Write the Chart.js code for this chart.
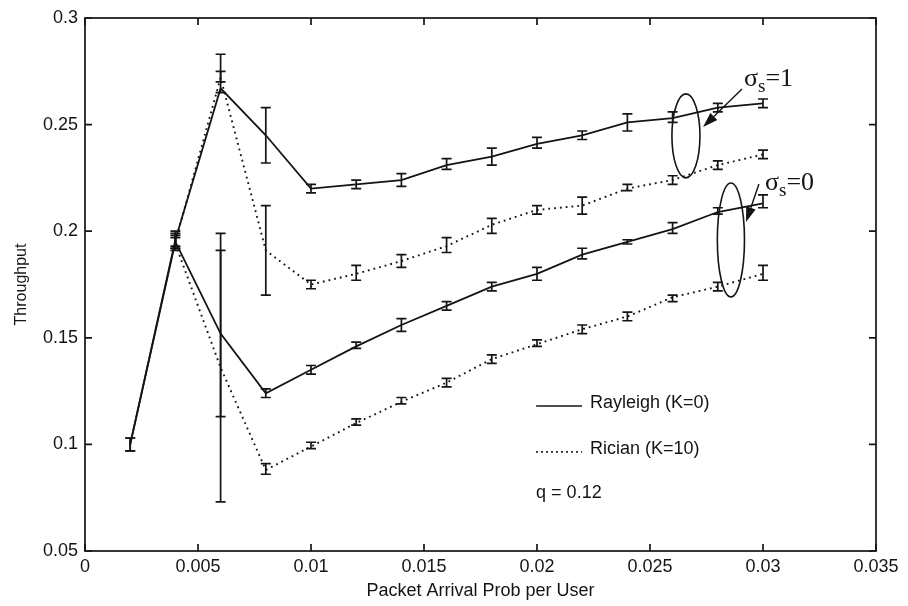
<!DOCTYPE html>
<html>
<head>
<meta charset="utf-8">
<script src="https://cdn.jsdelivr.net/npm/chart.js@4.4.0/dist/chart.umd.min.js"></script>
<style>
  html, body { margin: 0; padding: 0; background: #fff; }
  #wrap { width: 908px; height: 606px; }
</style>
</head>
<body>
<div id="wrap"><canvas id="chart1" width="908" height="606"></canvas></div>
<script>
//------------------------------ data ------------------------------------------
// packet arrival prob per user
var x_rayleigh = [0.002, 0.004, 0.006, 0.008, 0.010, 0.012, 0.014, 0.016, 0.018, 0.020, 0.022, 0.024, 0.026, 0.028, 0.030];
var x_rician = [0.004, 0.006, 0.008, 0.010, 0.012, 0.014, 0.016, 0.018, 0.020, 0.022, 0.024, 0.026, 0.028, 0.030];

// Rayleigh (K=0), sigma_s = 1
var ray1 = [0.100, 0.196, 0.267, 0.245, 0.220, 0.222, 0.224, 0.231, 0.235, 0.241, 0.245, 0.251, 0.253, 0.258, 0.260];
var ray1_lo = [0.097, 0.193, 0.265, 0.232, 0.218, 0.220, 0.221, 0.229, 0.231, 0.239, 0.243, 0.247, 0.251, 0.256, 0.258];
var ray1_hi = [0.103, 0.199, 0.283, 0.258, 0.222, 0.224, 0.227, 0.234, 0.239, 0.244, 0.247, 0.255, 0.256, 0.260, 0.262];

// Rician (K=10), sigma_s = 1
var ric1 = [0.195, 0.272, 0.191, 0.175, 0.180, 0.186, 0.193, 0.203, 0.210, 0.212, 0.220, 0.224, 0.231, 0.236];
var ric1_lo = [0.192, 0.270, 0.170, 0.173, 0.177, 0.183, 0.190, 0.199, 0.208, 0.208, 0.219, 0.222, 0.229, 0.234];
var ric1_hi = [0.198, 0.275, 0.212, 0.177, 0.184, 0.189, 0.197, 0.206, 0.212, 0.216, 0.222, 0.226, 0.233, 0.238];

// Rayleigh (K=0), sigma_s = 0
var ray0 = [0.100, 0.195, 0.152, 0.124, 0.135, 0.146, 0.156, 0.165, 0.174, 0.180, 0.189, 0.195, 0.201, 0.209, 0.213];
var ray0_lo = [0.097, 0.192, 0.113, 0.122, 0.133, 0.145, 0.153, 0.163, 0.172, 0.177, 0.187, 0.194, 0.199, 0.208, 0.211];
var ray0_hi = [0.103, 0.200, 0.191, 0.126, 0.137, 0.148, 0.159, 0.167, 0.176, 0.183, 0.192, 0.196, 0.204, 0.211, 0.217];

// Rician (K=10), sigma_s = 0
var ric0 = [0.194, 0.136, 0.088, 0.099, 0.110, 0.120, 0.129, 0.140, 0.147, 0.154, 0.160, 0.169, 0.174, 0.180];
var ric0_lo = [0.191, 0.073, 0.086, 0.098, 0.109, 0.119, 0.127, 0.138, 0.146, 0.152, 0.158, 0.167, 0.172, 0.177];
var ric0_hi = [0.197, 0.199, 0.091, 0.101, 0.112, 0.122, 0.131, 0.142, 0.149, 0.156, 0.162, 0.170, 0.176, 0.184];

var x_ticks = [0, 0.005, 0.01, 0.015, 0.02, 0.025, 0.03, 0.035];
var y_ticks = [0.05, 0.1, 0.15, 0.2, 0.25, 0.3];

//------------------------------ helpers ---------------------------------------
var INK = '#141414';
var SANS = '"Liberation Sans", Arial, sans-serif';
var SERIF = '"Liberation Serif", "Times New Roman", serif';

function pts(xs, ys) {
  return xs.map(function (x, i) { return { x: x, y: ys[i] }; });
}
function fmt(v) { return String(parseFloat(Number(v).toFixed(4))); }

function solidSet(xs, ys, lo, hi) {
  return { data: pts(xs, ys), errLow: lo, errHigh: hi, borderColor: INK, borderWidth: 1.8, pointRadius: 0, fill: false };
}
function dottedSet(xs, ys, lo, hi) {
  return { data: pts(xs, ys), errLow: lo, errHigh: hi, borderColor: INK, borderWidth: 1.9, borderDash: [1.8, 4], pointRadius: 0, fill: false };
}

// error bars with caps
var errorBars = {
  id: 'errorBars',
  afterDatasetsDraw: function (chart) {
    var ctx = chart.ctx, xs = chart.scales.x, ys = chart.scales.y;
    chart.data.datasets.forEach(function (ds) {
      if (!ds.errLow) return;
      ctx.save();
      ctx.strokeStyle = INK; ctx.lineWidth = 1.7; ctx.setLineDash([]);
      ds.data.forEach(function (p, j) {
        var px = xs.getPixelForValue(p.x);
        var lo = ys.getPixelForValue(ds.errLow[j]);
        var hi = ys.getPixelForValue(ds.errHigh[j]);
        ctx.beginPath();
        ctx.moveTo(px, lo); ctx.lineTo(px, hi);
        ctx.moveTo(px - 5, lo); ctx.lineTo(px + 5, lo);
        ctx.moveTo(px - 5, hi); ctx.lineTo(px + 5, hi);
        ctx.stroke();
      });
      ctx.restore();
    });
  }
};

// matlab style box with inward ticks
var axisBox = {
  id: 'axisBox',
  afterDraw: function (chart) {
    var a = chart.chartArea, ctx = chart.ctx, sx = chart.scales.x, sy = chart.scales.y;
    ctx.save();
    ctx.strokeStyle = INK; ctx.lineWidth = 1.7;
    ctx.strokeRect(a.left, a.top, a.right - a.left, a.bottom - a.top);
    ctx.beginPath();
    x_ticks.forEach(function (v) {
      var px = sx.getPixelForValue(v);
      ctx.moveTo(px, a.bottom); ctx.lineTo(px, a.bottom - 7);
      ctx.moveTo(px, a.top); ctx.lineTo(px, a.top + 7);
    });
    y_ticks.forEach(function (v) {
      var py = sy.getPixelForValue(v);
      ctx.moveTo(a.left, py); ctx.lineTo(a.left + 7, py);
      ctx.moveTo(a.right, py); ctx.lineTo(a.right - 7, py);
    });
    ctx.stroke();
    ctx.restore();
  }
};

function arrow(ctx, x1, y1, x2, y2) {
  var ang = Math.atan2(y2 - y1, x2 - x1), len = 15, w = 5;
  var bx = x2 - len * Math.cos(ang), by = y2 - len * Math.sin(ang);
  ctx.beginPath(); ctx.moveTo(x1, y1); ctx.lineTo(bx, by); ctx.stroke();
  ctx.beginPath();
  ctx.moveTo(x2, y2);
  ctx.lineTo(bx + w * Math.sin(ang), by - w * Math.cos(ang));
  ctx.lineTo(bx - w * Math.sin(ang), by + w * Math.cos(ang));
  ctx.closePath(); ctx.fill();
}

function sigmaLabel(ctx, px, py, val) {
  ctx.textAlign = 'left'; ctx.textBaseline = 'alphabetic';
  ctx.font = '26px ' + SERIF;
  ctx.fillText('\u03c3', px, py);
  var w = ctx.measureText('\u03c3').width;
  ctx.font = '19px ' + SERIF;
  ctx.fillText('s', px + w, py + 6);
  var w2 = ctx.measureText('s').width;
  ctx.font = '26px ' + SERIF;
  ctx.fillText('=' + val, px + w + w2, py);
}

// ellipses, arrows, sigma labels and the hand made legend (anchored in data units)
var notes = {
  id: 'notes',
  afterDraw: function (chart) {
    var ctx = chart.ctx, sx = chart.scales.x, sy = chart.scales.y;
    function X(v) { return sx.getPixelForValue(v); }
    function Y(v) { return sy.getPixelForValue(v); }
    ctx.save();
    ctx.strokeStyle = INK; ctx.fillStyle = INK; ctx.lineWidth = 1.6;

    ctx.beginPath();
    ctx.ellipse(X(0.02659), Y(0.2447), X(0.02659 + 0.00062) - X(0.02659), Y(0.2447) - Y(0.2447 + 0.0197), 0, 0, Math.PI * 2);
    ctx.stroke();
    ctx.beginPath();
    ctx.ellipse(X(0.02858), Y(0.1959), X(0.02858 + 0.0006) - X(0.02858), Y(0.1959) - Y(0.1959 + 0.0267), 0, 0, Math.PI * 2);
    ctx.stroke();

    ctx.lineWidth = 1.4;
    arrow(ctx, X(0.02907), Y(0.2667), X(0.02735), Y(0.2489));
    arrow(ctx, X(0.02982), Y(0.2221), X(0.02925), Y(0.2043));

    sigmaLabel(ctx, X(0.02916), Y(0.2681), '1');
    sigmaLabel(ctx, X(0.03009), Y(0.2193), '0');

    // legend
    ctx.lineWidth = 1.7;
    ctx.beginPath(); ctx.moveTo(X(0.01996), Y(0.1180)); ctx.lineTo(X(0.02199), Y(0.1180)); ctx.stroke();
    ctx.setLineDash([1.8, 3.2]);
    ctx.beginPath(); ctx.moveTo(X(0.01996), Y(0.0965)); ctx.lineTo(X(0.02199), Y(0.0965)); ctx.stroke();
    ctx.setLineDash([]);
    ctx.font = '18px ' + SANS; ctx.textBaseline = 'middle'; ctx.textAlign = 'left';
    ctx.fillText('Rayleigh (K=0)', X(0.02234), Y(0.1195));
    ctx.fillText('Rician (K=10)', X(0.02234), Y(0.0980));
    ctx.fillText('q = 0.12', X(0.01996), Y(0.0770));
    ctx.restore();
  }
};

//------------------------------ chart -----------------------------------------
var chartLine = document.getElementById('chart1').getContext('2d');
var myChart = new Chart(chartLine, {
  type: 'line',
  data: {
    datasets: [
      solidSet(x_rayleigh, ray1, ray1_lo, ray1_hi),
      dottedSet(x_rician, ric1, ric1_lo, ric1_hi),
      solidSet(x_rayleigh, ray0, ray0_lo, ray0_hi),
      dottedSet(x_rician, ric0, ric0_lo, ric0_hi)
    ]
  },
  options: {
    responsive: false,
    animation: false,
    layout: { padding: { top: 18, right: 32, left: 0, bottom: 0 } },
    plugins: { legend: { display: false }, tooltip: { enabled: false } },
    elements: { line: { tension: 0 } },
    scales: {
      x: {
        type: 'linear', min: 0, max: 0.035,
        afterBuildTicks: function (s) { s.ticks = x_ticks.map(function (v) { return { value: v }; }); },
        ticks: { callback: fmt, color: INK, font: { family: SANS, size: 18 }, padding: 5, maxRotation: 0, autoSkip: false },
        grid: { display: false, drawTicks: false },
        border: { display: false },
        title: { display: true, text: 'Packet Arrival Prob per User', color: INK, font: { family: SANS, size: 18 }, padding: { top: 0, bottom: 4 } },
        afterFit: function (s) { s.height = 55; }
      },
      y: {
        type: 'linear', min: 0.05, max: 0.3,
        afterBuildTicks: function (s) { s.ticks = y_ticks.map(function (v) { return { value: v }; }); },
        ticks: { callback: fmt, color: INK, font: { family: SANS, size: 18 }, padding: 7 },
        grid: { display: false, drawTicks: false },
        border: { display: false },
        title: { display: true, text: 'Throughput', color: INK, font: { family: SANS, size: 16 }, padding: { top: 12 } },
        afterFit: function (s) { s.width = 85; }
      }
    }
  },
  plugins: [errorBars, axisBox, notes]
});
</script>
</body>
</html>
